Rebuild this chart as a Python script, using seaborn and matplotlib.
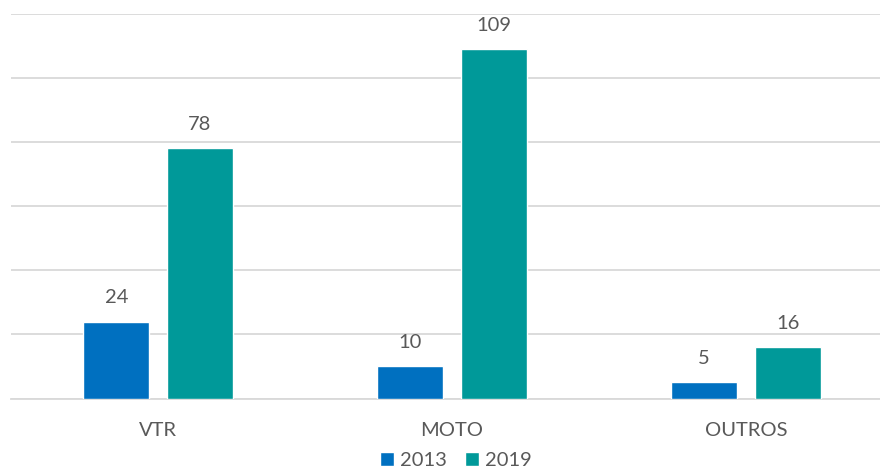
import pandas as pd
import matplotlib
matplotlib.use("Agg")
from matplotlib import pyplot as plt
import seaborn as sns

categories = ['VTR', 'MOTO', 'OUTROS']
years = ['2013', '2019']
values_2013 = [24, 10, 5]
values_2019 = [78, 109, 16]

df = pd.DataFrame({
    'Categoria': categories * 2,
    'Ano': [years[0]] * 3 + [years[1]] * 3,
    'Valor': values_2013 + values_2019,
})

sns.set_style('white')
plt.rcParams['font.family'] = ['Lato', 'DejaVu Sans']
text_color = '#595959'
grid_color = '#D9D9D9'

fig = plt.figure(figsize=(8.8, 4.71), dpi=100)
ax = fig.add_axes([11 / 880, 1 - 398.5 / 471, 882 / 880, 385 / 471])

sns.barplot(data=df, x='Categoria', y='Valor', hue='Ano',
            palette=['#0070C0', '#009999'], width=0.568, gap=0.21,
            saturation=1, ax=ax, zorder=3)

ax.set_ylim(0, 120)
ax.set_xlim(-0.5, 2.5)
ax.set_yticks(range(0, 121, 20))
ax.yaxis.grid(True, color=grid_color, linewidth=1.3, zorder=0)
ax.set_yticklabels([])
ax.tick_params(axis='y', length=0)
for s in ['top', 'right', 'left']:
    ax.spines[s].set_visible(False)
ax.spines['bottom'].set_color(grid_color)
ax.spines['bottom'].set_linewidth(1.3)

# category labels between boundary ticks
ax.set_xticks([-0.5, 0.5, 1.5, 2.5])
ax.set_xticklabels([])
ax.tick_params(axis='x', length=8, width=1.3, color=grid_color, direction='out')
for i, c in enumerate(categories):
    ax.text(i, -7.3, c, ha='center', va='top', fontsize=14.5, color=text_color)

for cont in ax.containers:
    ax.bar_label(cont, padding=11, fontsize=14.5, color=text_color)

ax.set_xlabel('')
ax.set_ylabel('')
leg = ax.legend(loc='lower center', bbox_to_anchor=(0.504, -0.205), ncol=2,
                frameon=False, fontsize=14.5, handlelength=0.7, handleheight=0.7,
                handletextpad=0.3, columnspacing=0.9, borderaxespad=0)
for t in leg.get_texts():
    t.set_color(text_color)

fig.savefig('out.png', dpi=100)
